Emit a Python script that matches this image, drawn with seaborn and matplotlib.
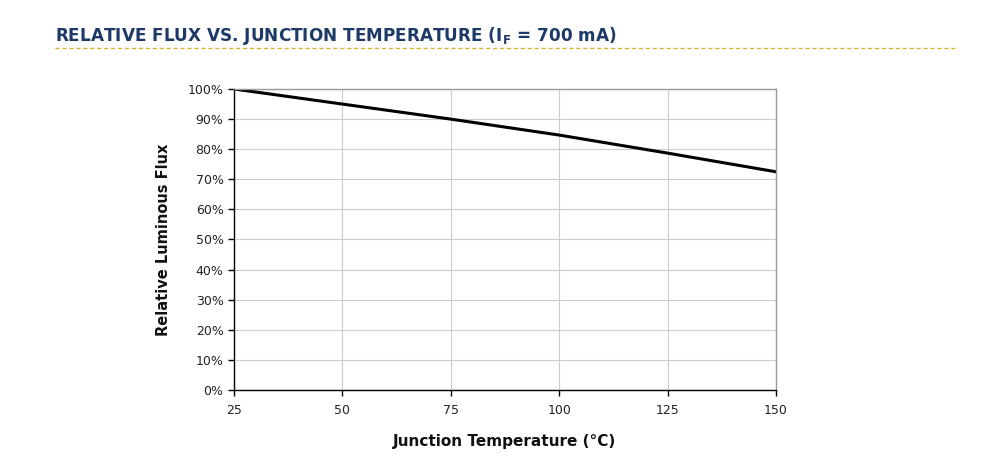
import matplotlib
matplotlib.use("Agg")
import matplotlib.pyplot as plt
import seaborn as sns
import pandas as pd
from matplotlib.ticker import PercentFormatter
from matplotlib.lines import Line2D

temperature = [25, 50, 75, 100, 125, 150]
rel_flux = [100.0, 95.0, 90.0, 84.7, 78.7, 72.5]
x_ticks = [25, 50, 75, 100, 125, 150]
y_ticks = [0, 10, 20, 30, 40, 50, 60, 70, 80, 90, 100]

sns.set_theme(style="white")
plt.rcParams['font.family'] = ['DejaVu Sans']

df = pd.DataFrame({"T": temperature, "F": rel_flux})

fig = plt.figure(figsize=(10, 4.68), dpi=100)
ax = fig.add_axes([0.234, 0.1667, 0.542, 0.6431])

sns.lineplot(data=df, x="T", y="F", ax=ax, color="black", linewidth=2.2)

ax.set_xlim(25, 150)
ax.set_ylim(0, 100)
ax.set_xticks(x_ticks)
ax.set_yticks(y_ticks)
ax.yaxis.set_major_formatter(PercentFormatter(decimals=0))
ax.grid(True, color="#cccccc", linewidth=0.8)
ax.set_axisbelow(True)
for s in ["top", "right"]:
    ax.spines[s].set_color("#999999")
    ax.spines[s].set_linewidth(1.0)
for s in ["left", "bottom"]:
    ax.spines[s].set_color("black")
    ax.spines[s].set_linewidth(1.0)
ax.tick_params(axis="both", which="major", direction="out", length=4, width=1,
               color="black", labelsize=9, labelcolor="#222222", bottom=True, left=True)
ax.tick_params(axis="x", pad=6)
ax.set_xlabel("Junction Temperature (°C)", fontsize=11, fontweight="bold", labelpad=12, color="#111111")
ax.set_ylabel("Relative Luminous Flux", fontsize=10.5, fontweight="bold", labelpad=12, color="#111111")

fig.text(0.055, 1 - 36 / 468, r"RELATIVE FLUX VS. JUNCTION TEMPERATURE (I$_\mathregular{F}$ = 700 mA)",
         fontsize=12.2, fontweight="bold", color="#1c3968", va="center", ha="left")
fig.add_artist(Line2D([0.055, 0.958], [1 - 48 / 468, 1 - 48 / 468], transform=fig.transFigure,
                      color="#e0b030", linewidth=1.0, linestyle=(0, (3, 2))))

fig.savefig("out.png", dpi=100, facecolor="white")
